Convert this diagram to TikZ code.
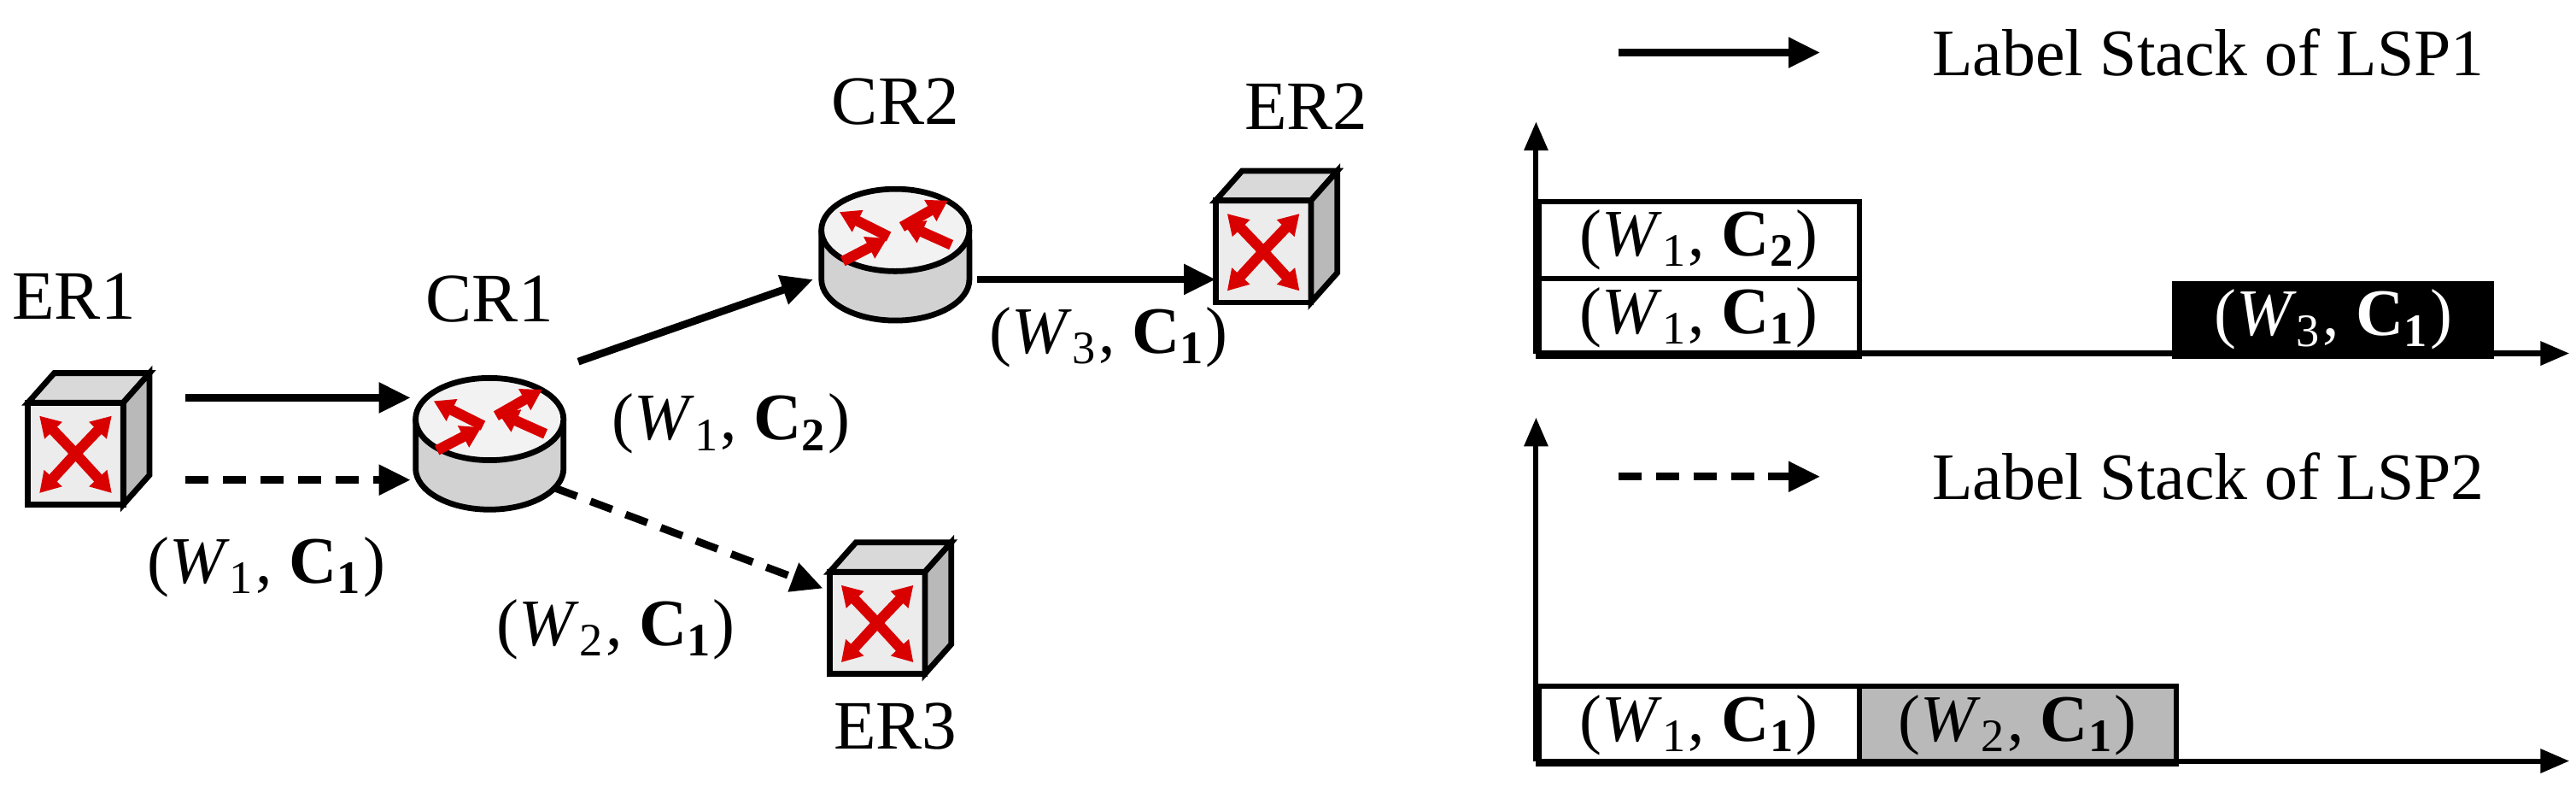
\documentclass[tikz,border=0pt]{standalone}
\usepackage{fontspec}
\setmainfont{Liberation Serif}
\usetikzlibrary{arrows.meta,calc}
\newcommand{\lbl}[3]{(\textit{W}\textsubscript{#1}, \textbf{C\textsubscript{#2}})}
\begin{document}
\begin{tikzpicture}[x=0.01cm,y=-0.01cm,
  txt/.style={font=\fontsize{11.5}{13}\selectfont,inner sep=1pt},
  con/.style={line width=1.3pt,-{Triangle[length=5.5pt,width=5pt]}},
  dcon/.style={con,dash pattern=on 4pt off 2.5pt},
  ax/.style={line width=0.9pt,-{Triangle[length=5pt,width=4pt]}},
  box/.style={draw,line width=0.9pt,minimum width=1.95cm,minimum height=0.47cm,inner sep=0,font=\fontsize{11.5}{13}\selectfont,anchor=north west},
  icon/.style={inner sep=0,minimum width=0.6cm,minimum height=0.6cm},
  redarr/.style={red!85!black,line width=1.8pt,-{Triangle[length=3.5pt,width=4pt]}},
  switch/.pic={
    \fill[gray!15] (-38,-20) rectangle (20,42);
    \draw[line width=1pt,fill=gray!30] (-38,-20)--(-22,-38)--(36,-38)--(20,-20)--cycle;
    \draw[line width=1pt,fill=gray!55] (20,-20)--(36,-38)--(36,24)--(20,42)--cycle;
    \draw[line width=1pt] (-38,-20) rectangle (20,42);
    \draw[redarr] (-9,11)--(-31,-12);
    \draw[redarr] (-9,11)--(13,-12);
    \draw[redarr] (-9,11)--(-31,35);
    \draw[redarr] (-9,11)--(13,35);
  },
  router/.pic={
    \draw[line width=1pt,fill=gray!35] (-45,-10)--(-45,20) arc[start angle=180,end angle=360,x radius=0.45cm,y radius=0.25cm]--(45,-10);
    \draw[line width=1pt,fill=gray!10] (0,-10) ellipse[x radius=0.45cm,y radius=0.25cm];
    \draw[redarr] (-4,-6)--(-34,-21);
    \draw[redarr] (4,-12)--(32,-28);
    \draw[redarr] (-32,9)--(-5,-5);
    \draw[redarr] (34,-1)--(5,-14);
  }]
\useasboundingbox (0,0) rectangle (1568,482);
% icons
\node[icon] (er1) at (55,265) {}; \pic at (er1) {switch};
\node[icon] (cr1) at (298,265) {}; \pic at (cr1) {router};
\node[icon] (cr2) at (545,150) {}; \pic at (cr2) {router};
\node[icon] (er2) at (778,142) {}; \pic at (er2) {switch};
\node[icon] (er3) at (543,368) {}; \pic at (er3) {switch};
% labels
\node[txt,font=\fontsize{12}{14}\selectfont] (ler1) at (45,180) {ER1};
\node[txt,font=\fontsize{12}{14}\selectfont] (lcr1) at (298,182) {CR1};
\node[txt,font=\fontsize{12}{14}\selectfont] (lcr2) at (545,62) {CR2};
\node[txt,font=\fontsize{12}{14}\selectfont] (ler2) at (795,65) {ER2};
\node[txt,font=\fontsize{12}{14}\selectfont] (ler3) at (545,442) {ER3};
% connectors
\draw[con] ($(er1)+(58,-23)$) -- ($(cr1)+(-48,-23)$);
\draw[dcon] ($(er1)+(58,27)$) -- ($(cr1)+(-48,27)$);
\draw[con] ($(cr1)+(54,-45)$) -- ($(cr2)+(-50,20)$);
\draw[con] ($(cr2)+(50,20)$) -- ($(er2)+(-38,28)$);
\draw[dcon] ($(cr1)+(40,32)$) -- ($(er3)+(-42,-10)$);
\node[txt] (l1) at (162,345) {\lbl{1}{1}{}};
\node[txt] (l2) at (445,258) {\lbl{1}{2}{}};
\node[txt] (l3) at (675,205) {\lbl{3}{1}{}};
\node[txt] (l4) at (375,383) {\lbl{2}{1}{}};
% legend
\coordinate (a1s) at (985,32); \coordinate (a1e) at (1108,32);
\draw[con] (a1s) -- (a1e);
\node[txt,anchor=west] (lg1) at (1172,32) {Label Stack of LSP1};
\coordinate (a2s) at (985,290); \coordinate (a2e) at (1108,290);
\draw[dcon] (a2s) -- (a2e);
\node[txt,anchor=west] (lg2) at (1172,290) {Label Stack of LSP2};
% top chart
\coordinate (o1) at (935,215); \coordinate (y1) at (935,74); \coordinate (x1) at (1564,215);
\node[box] (b1) at (935,168) {\lbl{1}{1}{}};
\node[box] (b2) at (935,121) {\lbl{1}{2}{}};
\node[box,fill=black,text=white,minimum width=1.93cm,minimum height=0.44cm] (b3) at (1322,171) {\lbl{3}{1}{}};
\draw[ax] (o1) -- (y1);
\draw[ax] (o1) -- (x1);
% bottom chart
\coordinate (o2) at (935,463); \coordinate (y2) at (935,254); \coordinate (x2) at (1564,463);
\node[box] (b4) at (935,416) {\lbl{1}{1}{}};
\node[box,fill=gray!55,minimum width=1.93cm] (b5) at (1130,416) {\lbl{2}{1}{}};
\draw[ax] (o2) -- (y2);
\draw[ax] (o2) -- (x2);
\end{tikzpicture}
\end{document}
